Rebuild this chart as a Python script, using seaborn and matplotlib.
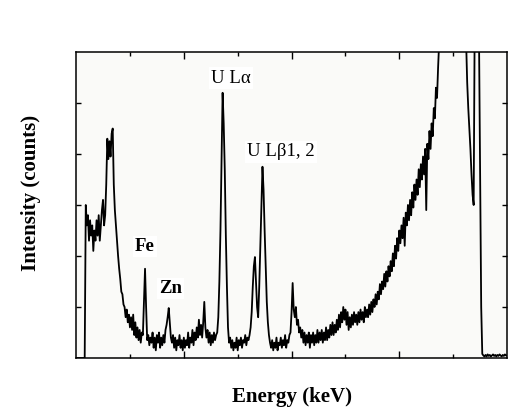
import numpy as np
import pandas as pd
import matplotlib
matplotlib.use("Agg")
import matplotlib.pyplot as plt
import seaborn as sns

# espectro: una fila por keV (canales de 0.1 keV)
counts = [
    0, 0, 0, 0, 0, 0, 0, 0, 0, 3.0,                              # 0
    2.6, 2.8, 2.3, 2.7, 2.4, 2.6, 2.1, 2.5, 2.3, 2.7,            # 1
    2.4, 2.8, 2.3, 2.6, 2.9, 3.1, 2.6, 2.8, 3.4, 4.3,            # 2
    3.9, 4.25, 3.95, 4.4, 4.5, 3.4, 2.9, 2.6, 2.3, 2.0,          # 3
    1.75, 1.55, 1.3, 1.25, 1.05, 1.0, 0.8, 0.95, 0.7, 0.85,      # 4
    0.6, 0.8, 0.55, 0.85, 0.45, 0.7, 0.4, 0.6, 0.35, 0.55,       # 5
    0.3, 0.5, 0.45, 1.1, 1.75, 1.0, 0.35, 0.45, 0.25, 0.4,       # 6
    0.3, 0.5, 0.2, 0.4, 0.15, 0.45, 0.3, 0.5, 0.2, 0.4,          # 7
    0.25, 0.45, 0.3, 0.55, 0.65, 0.8, 0.98, 0.7, 0.4, 0.3,       # 8
    0.45, 0.2, 0.4, 0.15, 0.35, 0.25, 0.45, 0.2, 0.35, 0.15,     # 9
    0.4, 0.2, 0.35, 0.25, 0.5, 0.2, 0.4, 0.3, 0.55, 0.25,        # 10
    0.5, 0.35, 0.6, 0.4, 0.75, 0.45, 0.65, 0.4, 0.7, 1.1,        # 11
    0.6, 0.4, 0.55, 0.3, 0.5, 0.25, 0.45, 0.3, 0.5, 0.35,        # 12
    0.45, 0.5, 0.8, 1.5, 2.5, 3.9, 5.2, 4.6, 3.7, 2.4,           # 13
    1.4, 0.6, 0.3, 0.4, 0.2, 0.35, 0.15, 0.3, 0.2, 0.4,          # 14
    0.15, 0.35, 0.25, 0.4, 0.2, 0.35, 0.3, 0.45, 0.25, 0.4,      # 15
    0.35, 0.45, 0.6, 0.9, 1.4, 1.8, 1.98, 1.5, 1.0, 0.8,         # 16
    1.4, 2.2, 3.0, 3.75, 3.3, 2.5, 1.8, 1.1, 0.7, 0.45,          # 17
    0.3, 0.2, 0.35, 0.15, 0.3, 0.2, 0.4, 0.15, 0.3, 0.25,        # 18
    0.4, 0.2, 0.35, 0.25, 0.45, 0.2, 0.35, 0.3, 0.45, 0.5,       # 19
    0.9, 1.47, 0.95, 0.8, 1.0, 0.65, 0.75, 0.5, 0.6, 0.4,        # 20
    0.55, 0.3, 0.5, 0.25, 0.45, 0.3, 0.5, 0.2, 0.45, 0.3,        # 21
    0.5, 0.25, 0.45, 0.3, 0.55, 0.3, 0.5, 0.35, 0.55, 0.3,       # 22
    0.5, 0.35, 0.6, 0.35, 0.55, 0.4, 0.65, 0.45, 0.7, 0.45,      # 23
    0.65, 0.5, 0.75, 0.55, 0.85, 0.6, 0.9, 0.7, 1.0, 0.75,       # 24
    0.95, 0.65, 0.9, 0.55, 0.8, 0.6, 0.85, 0.65, 0.9, 0.7,       # 25
    0.85, 0.65, 0.9, 0.7, 0.95, 0.75, 0.9, 0.7, 1.0, 0.8,        # 26
    0.95, 0.8, 1.05, 0.85, 1.1, 0.9, 1.15, 1.0, 1.25, 1.05,      # 27
    1.3, 1.15, 1.45, 1.25, 1.5, 1.35, 1.65, 1.4, 1.7, 1.5,       # 28
    1.8, 1.6, 1.9, 1.7, 2.05, 1.8, 2.2, 1.95, 2.35, 2.1,         # 29
    2.5, 2.25, 2.6, 2.35, 2.75, 2.2, 2.85, 2.6, 3.0, 2.7,        # 30
    3.1, 2.8, 3.25, 2.95, 3.4, 3.1, 3.5, 3.2, 3.7, 3.35,         # 31
    3.8, 3.5, 3.95, 3.6, 4.1, 2.9, 4.2, 3.9, 4.45, 4.1,          # 32
    4.6, 4.35, 4.9, 4.7, 5.3, 5.1, 5.7, 6.2, 6.8, 7.2,           # 33
    7.5, 7.5, 7.5, 7.5, 7.5, 7.5, 7.5, 7.5, 7.5, 7.5,            # 34
    7.5, 7.5, 7.5, 7.5, 7.5, 7.5, 7.5, 7.5, 7.5, 7.5,            # 35
    7.5, 7.0, 6.2, 5.4, 4.9, 4.5, 4.1, 3.6, 3.2, 3.0,            # 36
    7.0, 7.5, 7.5, 7.5, 6.2, 3.6, 1.0, 0.08, 0.05, 0.03,         # 37
    0.06, 0.03, 0.07, 0.04, 0.06, 0.03, 0.05, 0.07, 0.04, 0.06,  # 38
    0.03, 0.06, 0.04, 0.07, 0.05, 0.03, 0.06, 0.04, 0.07, 0.05,  # 39
    0.05,                                                        # 40
]
energy = np.round(np.arange(len(counts)) * 0.1, 1)

# etiquetas de los picos
peak_labels = ["Fe", "Zn", "U L\u03b1", "U L\u03b21, 2"]
label_energy = [6.4, 8.8, 14.4, 19.0]
label_height = [2.18, 1.37, 5.49, 4.04]
label_weight = ["bold", "bold", "normal", "normal"]

data = pd.DataFrame({"Energy": energy, "Counts": counts})

sns.set_theme(style="ticks")
plt.rcParams["font.family"] = ["Liberation Serif", "DejaVu Serif"]

fig = plt.figure(figsize=(5.14, 4.17), dpi=100)
fig.patch.set_facecolor("white")
ax = fig.add_axes([0.148, 0.1415, 0.8385, 0.7338])
ax.set_facecolor("#fafaf8")

sns.lineplot(data=data, x="Energy", y="Counts", color="black", linewidth=1.3,
             estimator=None, sort=False, ax=ax)

ax.set_xlim(0, 40)
ax.set_ylim(0, 6)
ax.set_xticks([10, 20, 30])
ax.set_xticks([5, 15, 25, 35], minor=True)
ax.set_yticks([1, 2, 3, 4, 5])
ax.tick_params(axis="both", which="both", direction="in", top=True, right=True,
               labelbottom=False, labelleft=False, color="black", width=1.0)
ax.tick_params(axis="x", which="major", length=5)
ax.tick_params(axis="x", which="minor", length=3)
ax.tick_params(axis="y", which="major", length=3.5)
for s in ax.spines.values():
    s.set_color("black")
    s.set_linewidth(1.1)

for lab, ex, ey, w in zip(peak_labels, label_energy, label_height, label_weight):
    ax.text(ex, ey, lab, ha="center", va="center", fontsize=13.5, fontweight=w,
            color="black", bbox=dict(facecolor="white", edgecolor="none", pad=1.5))

ax.set_xlabel("Energy (keV)", fontsize=15, fontweight="bold", color="black")
ax.set_ylabel("Intensity (counts)", fontsize=15, fontweight="bold", color="black")
ax.xaxis.set_label_coords(0.501, -0.127)
ax.xaxis.label.set_verticalalignment("center")
ax.yaxis.set_label_coords(-0.105, 0.539)
ax.yaxis.label.set_verticalalignment("center")

fig.savefig("out.png", dpi=100)
